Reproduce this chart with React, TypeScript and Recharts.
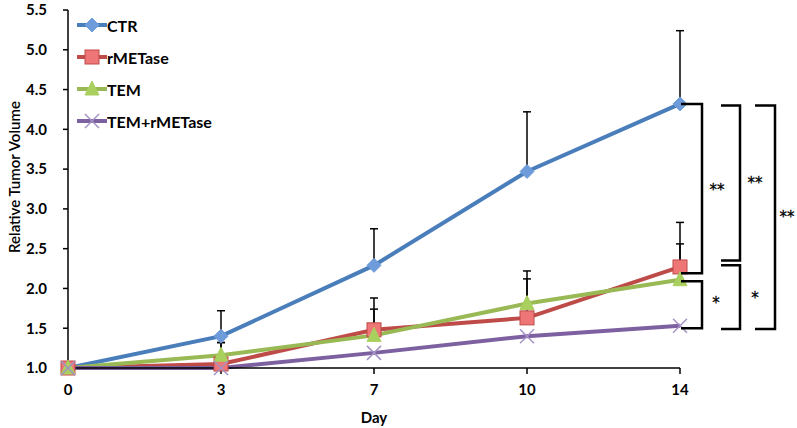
import React from "react";
import { LineChart, Line, XAxis, YAxis, ErrorBar } from "recharts";

const days = ["0", "3", "7", "10", "14"];
const ctr = [1.0, 1.4, 2.29, 3.47, 4.32];
const rmetase = [1.0, 1.05, 1.48, 1.63, 2.27];
const tem = [1.0, 1.16, 1.41, 1.81, 2.11];
const temRmetase = [1.0, 1.0, 1.19, 1.4, 1.53];
// upper error only
const ctrErr = [0, 0.32, 0.46, 0.75, 0.92];
const rmetaseErr = [0, 0.27, 0.4, 0.59, 0.56];
const temErr = [0, 0.16, 0.33, 0.31, 0.45];
const yTicks = [1.0, 1.5, 2.0, 2.5, 3.0, 3.5, 4.0, 4.5, 5.0, 5.5];

const FONT = "Lato, 'Open Sans', sans-serif";
// body margin is removed, so these are page pixels
const W = 797;
const H = 428;
const Y_W = 60;
const X_H = 30;
const M = { top: 10, right: 117, bottom: 30, left: 8 };
const plotTop = M.top;
const plotBottom = H - M.bottom - X_H;
const yMin = 1.0;
const yMax = 5.5;
const yPix = (v: number) => plotTop + ((yMax - v) / (yMax - yMin)) * (plotBottom - plotTop);

const data = days.map((d, i) => ({
  day: d,
  ctr: ctr[i],
  rmetase: rmetase[i],
  tem: tem[i],
  temRmetase: temRmetase[i],
  ctrErr: [0, ctrErr[i]],
  rmetaseErr: [0, rmetaseErr[i]],
  temErr: [0, temErr[i]],
}));

const series = [
  { key: "ctr", name: "CTR", color: "#4A7EBB", fill: "#6E9CDA", shape: "diamond" },
  { key: "rmetase", name: "rMETase", color: "#BE4B48", fill: "#EE7677", shape: "square" },
  { key: "tem", name: "TEM", color: "#98B954", fill: "#A9D05E", shape: "triangle" },
  { key: "temRmetase", name: "TEM+rMETase", color: "#7D60A0", fill: "#A391C6", shape: "x" },
];

const Marker = ({ cx, cy, shape, color, fill }: any) => {
  if (cx == null || cy == null) return null;
  switch (shape) {
    case "diamond":
      return <polygon points={`${cx},${cy - 7} ${cx + 7},${cy} ${cx},${cy + 7} ${cx - 7},${cy}`} fill={fill} stroke={fill} strokeWidth={1} />;
    case "square":
      return <rect x={cx - 7} y={cy - 7} width={14} height={14} fill={fill} stroke={color} strokeWidth={1} />;
    case "triangle":
      return <polygon points={`${cx},${cy - 8} ${cx + 7},${cy + 6} ${cx - 7},${cy + 6}`} fill={fill} stroke={fill} strokeWidth={1} />;
    default:
      return (
        <g stroke={fill} strokeWidth={1.5}>
          <line x1={cx - 7} y1={cy - 7} x2={cx + 7} y2={cy + 7} />
          <line x1={cx - 7} y1={cy + 7} x2={cx + 7} y2={cy - 7} />
        </g>
      );
  }
};

const ChartLegend = () => (
  <div style={{ position: "absolute", left: 77, top: 9, fontFamily: FONT, fontWeight: 700, fontSize: 16 }}>
    {series.map((s) => (
      <div key={s.key} style={{ display: "flex", alignItems: "center", height: 32 }}>
        <svg width={30} height={16}>
          <line x1={0} y1={8} x2={30} y2={8} stroke={s.color} strokeWidth={4} />
          <Marker cx={15} cy={8} shape={s.shape} color={s.color} fill={s.fill} />
        </svg>
        <span style={{ marginLeft: 0 }}>{s.name}</span>
      </div>
    ))}
  </div>
);

// significance brackets at day 14
const brackets = [
  { top: ctr[4], bottom: rmetase[4] - 0.08, x: 702, w: 21, label: "**", lx: 717, ly: 3.3 },
  { top: tem[4] - 0.02, bottom: temRmetase[4] - 0.03, x: 702, w: 21, label: "*", lx: 716, ly: 1.88 },
  { top: ctr[4] - 0.02, bottom: rmetase[4] + 0.08, x: 740, w: 19, label: "**", lx: 755, ly: 3.39 },
  { top: rmetase[4] + 0.02, bottom: temRmetase[4] - 0.04, x: 740, w: 19, label: "*", lx: 755, ly: 1.94 },
  { top: ctr[4] - 0.02, bottom: temRmetase[4] - 0.04, x: 775, w: 20, label: "**", lx: 787, ly: 2.96 },
];

export default function App() {
  return (
    <div style={{ position: "relative", width: W, height: H }}>
      <style>{"html,body{margin:0;padding:0;overflow:hidden}"}</style>
      <LineChart width={W} height={H} data={data} margin={M}>
        <XAxis
          dataKey="day"
          height={X_H}
          stroke="#000"
          strokeWidth={1.5}
          tickSize={6}
          tickMargin={10}
          tick={{ fill: "#000", fontFamily: FONT, fontWeight: 700, fontSize: 15 }}
          label={{ value: "Day", position: "bottom", offset: 14, fill: "#000", fontFamily: FONT, fontWeight: 700, fontSize: 15 }}
        />
        <YAxis
          type="number"
          width={Y_W}
          domain={[yMin, yMax]}
          ticks={yTicks}
          interval={0}
          tickFormatter={(v: number) => v.toFixed(1)}
          stroke="#000"
          strokeWidth={1.5}
          tickSize={5}
          tickMargin={16}
          tick={{ fill: "#000", fontFamily: FONT, fontWeight: 700, fontSize: 15 }}
        />
        {series.map((s) => (
          <Line
            key={s.key}
            dataKey={s.key}
            name={s.name}
            stroke={s.color}
            strokeWidth={4}
            isAnimationActive={false}
            dot={(p: any) => <Marker key={`${s.key}-${p.index}`} cx={p.cx} cy={p.cy} shape={s.shape} color={s.color} fill={s.fill} />}
            activeDot={false}
          >
            {s.key !== "temRmetase" && (
              <ErrorBar dataKey={`${s.key}Err`} direction="y" width={4} stroke="#000" strokeWidth={1.5} />
            )}
          </Line>
        ))}
      </LineChart>
      <ChartLegend />
      <svg width={W} height={H} style={{ position: "absolute", left: 0, top: 0, pointerEvents: "none" }}>
        <text
          transform={`translate(14, ${yPix(3.4)}) rotate(-90)`}
          textAnchor="middle"
          dominantBaseline="central"
          fontFamily={FONT}
          fontSize={15}
          fontWeight={600}
          fill="#000"
        >
          Relative Tumor Volume
        </text>
        {brackets.map((b, i) => (
          <g key={i}>
            <polyline
              points={`${b.x - b.w},${yPix(b.top)} ${b.x},${yPix(b.top)} ${b.x},${yPix(b.bottom)} ${b.x - b.w},${yPix(b.bottom)}`}
              fill="none"
              stroke="#000"
              strokeWidth={2.5}
            />
            <text
              x={b.lx}
              y={yPix(b.ly) + 5}
              textAnchor="middle"
              dominantBaseline="central"
              fontFamily="'DejaVu Sans', sans-serif"
              fontSize={15}
              fill="#000"
              stroke="#000"
              strokeWidth={0.3}
            >
              {b.label}
            </text>
          </g>
        ))}
      </svg>
    </div>
  );
}
